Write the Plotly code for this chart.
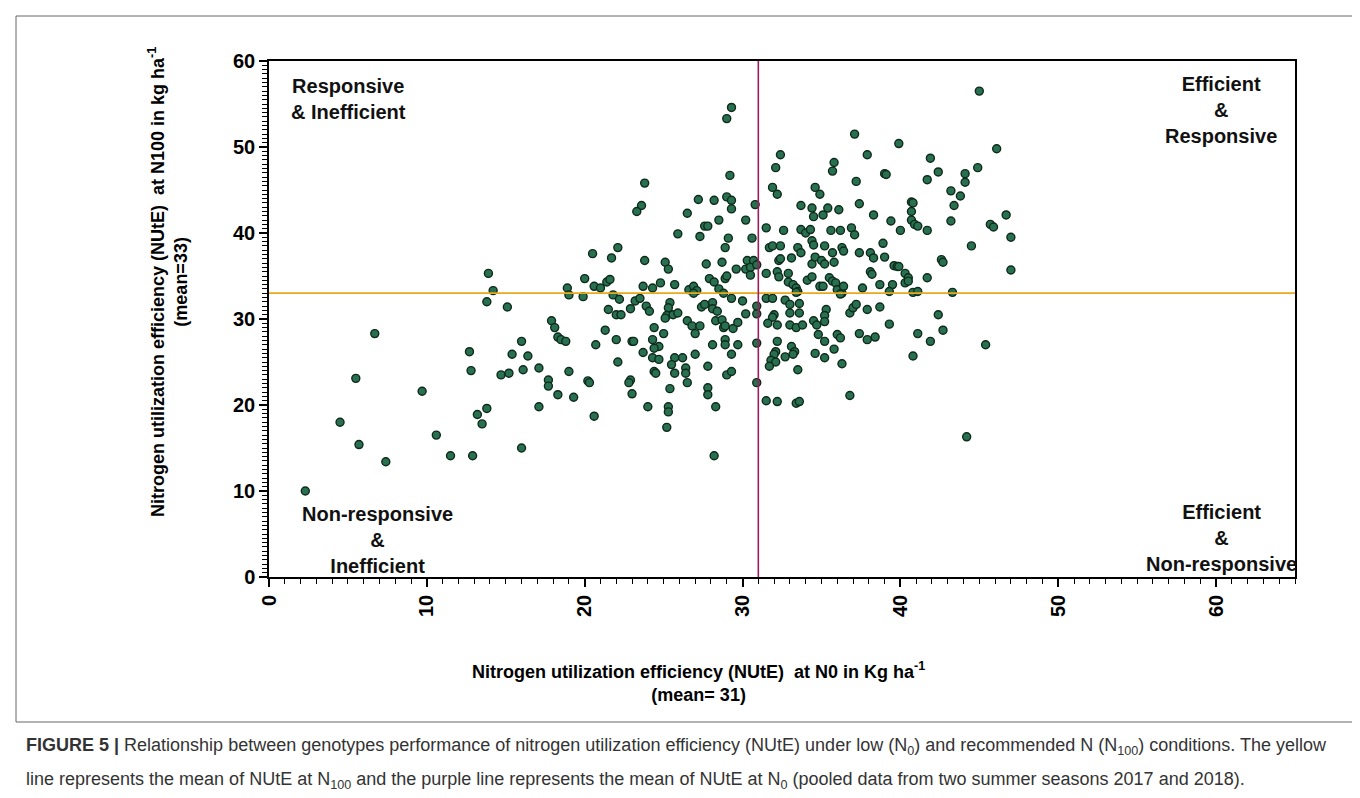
import plotly.graph_objects as go

# NUtE at N0 (x) and at N100 (y), kg/ha
nute_n0 = [
    29.3, 29.0, 29.2, 23.8, 23.6, 23.3, 27.2, 28.2, 29.0, 29.3, 29.3, 30.8, 26.5, 28.5, 30.2, 27.6, 27.8, 25.9, 27.3, 29.1, 30.6,
    45.0, 37.1, 39.9, 46.1, 32.4, 37.9, 41.9, 32.1, 35.8, 35.7, 44.9, 39.0, 39.1, 42.4, 44.1, 44.1, 41.7, 37.2, 31.9, 32.2, 34.6,
    34.9, 43.2, 43.8, 33.7, 34.4, 34.5, 35.1, 35.4, 36.1, 37.4, 38.3, 40.7, 40.8, 40.7, 40.7, 40.9, 41.1, 43.4, 43.2, 39.4, 41.7,
    40.0, 46.7, 45.7, 45.9, 47.0, 31.5, 32.6, 33.7, 34.0, 34.3, 35.6, 36.2, 36.9, 37.1,
    13.9, 14.2, 13.8, 15.1, 6.7, 12.7, 15.4, 12.8, 14.7, 15.2, 5.5, 9.7, 13.8,
    4.5, 5.7, 7.4, 2.3, 10.6, 11.5, 12.9, 13.2, 13.5,
    16.0, 20.6, 25.2, 28.2, 44.2,
    22.1, 20.5, 21.7, 23.8, 25.1, 25.3, 27.7, 28.7, 28.9, 29.6, 30.3, 30.7, 30.2, 30.5, 30.5, 30.9,
    20.0, 18.9, 19.0, 20.6, 21.0, 21.4, 21.6, 19.9, 21.8, 22.2, 23.7, 24.3, 24.8, 25.7, 26.6, 26.9, 27.1, 26.9, 27.9, 28.2, 28.9,
    29.0, 28.5, 28.8, 29.3, 30.0, 30.2, 30.9, 30.9,
    23.2, 23.5, 22.9, 21.5, 22.0, 22.3, 23.9, 24.1, 25.4, 25.3, 25.2, 25.1, 25.6, 25.9, 27.4, 27.6, 28.1, 28.1, 28.4,
    26.5, 26.8, 27.3, 27.0, 28.3, 28.7, 28.8, 28.9, 29.4, 29.7, 28.9, 28.9, 28.1, 29.7, 30.9,
    17.9, 18.1, 18.3, 18.5, 18.8, 21.3, 22.0, 20.7, 23.0, 23.1, 24.4, 25.0, 24.3, 24.7, 24.4,
    16.0, 16.4, 16.1, 17.1, 19.0, 17.7, 17.7, 18.3, 19.3, 20.2, 20.3, 17.1,
    22.1, 23.7, 24.3, 24.7, 25.7, 25.5, 26.2, 24.4, 24.5, 25.7, 26.4, 26.4, 27.0, 27.8, 29.3, 29.0, 29.3, 30.9,
    22.9, 22.8, 23.0, 25.4, 26.5, 27.8, 27.8, 24.0, 25.3, 25.3, 28.3,
    31.7, 31.9, 32.4, 33.5, 33.7, 34.4, 34.5, 35.2, 35.7, 36.3, 36.4, 38.9, 37.4, 38.1, 38.3, 39.0, 44.5,
    32.3, 32.4, 33.1, 34.4, 34.6, 35.0, 35.2, 35.8,
    31.5, 32.2, 32.3, 32.9, 32.9, 33.2, 33.4, 33.5, 34.1, 34.4, 34.9, 35.1, 35.5, 35.7, 35.9, 36.0, 36.3, 36.4, 38.1, 38.2,
    37.6, 38.7, 39.5, 39.3, 39.6, 39.8, 39.9, 40.3, 40.5, 40.3, 40.5, 41.7, 42.6, 42.7, 47.0,
    33.4, 36.2, 40.8, 41.1, 43.3,
    31.5, 31.9, 32.7, 33.0, 33.6, 32.0, 31.9, 33.0, 33.6, 31.6, 32.2, 33.0, 33.4, 33.8, 34.5, 34.7, 35.3, 35.2, 35.2, 36.8,
    37.0, 37.2, 37.9, 38.7, 39.3, 42.4, 42.7, 41.1, 41.9, 45.4,
    34.8, 35.2, 36.0, 36.2, 37.4, 37.9, 38.4, 32.2, 33.1, 33.3, 33.2, 32.1, 32.0, 32.7, 34.6, 35.2, 35.8, 36.3, 31.8, 32.1,
    31.7, 33.5, 40.8, 36.8, 31.5, 32.2, 33.4, 33.6,
]
nute_n100 = [
    54.6, 53.3, 46.7, 45.8, 43.2, 42.5, 43.9, 43.8, 44.2, 43.8, 42.8, 43.3, 42.3, 41.5, 41.5, 40.8, 40.8, 39.9, 39.6, 39.4, 39.4,
    56.5, 51.5, 50.4, 49.8, 49.1, 49.1, 48.7, 47.6, 48.2, 47.2, 47.6, 46.9, 46.8, 47.1, 46.9, 45.9, 46.2, 46.0, 45.3, 44.5, 45.3,
    44.5, 44.9, 44.3, 43.2, 42.9, 41.9, 42.1, 42.9, 42.7, 43.4, 42.1, 43.6, 43.5, 42.5, 41.5, 41.0, 40.8, 43.2, 41.4, 41.4, 40.3,
    40.3, 42.1, 41.0, 40.7, 39.5, 40.6, 40.3, 40.4, 40.0, 40.4, 40.3, 40.3, 40.6, 39.8,
    35.3, 33.3, 32.0, 31.4, 28.3, 26.2, 25.9, 24.0, 23.5, 23.7, 23.1, 21.6, 19.6,
    18.0, 15.4, 13.4, 10.0, 16.5, 14.1, 14.1, 18.9, 17.8,
    15.0, 18.7, 17.4, 14.1, 16.3,
    38.3, 37.6, 37.1, 36.8, 36.6, 35.8, 36.4, 36.6, 38.3, 35.8, 36.8, 36.8, 35.8, 36.0, 35.1, 36.3,
    34.7, 33.6, 32.8, 33.8, 33.6, 34.3, 34.6, 32.6, 32.8, 32.3, 33.8, 33.6, 34.2, 34.0, 33.4, 33.8, 33.3, 33.0, 34.7, 34.3, 34.7,
    35.0, 33.5, 33.0, 32.4, 32.1, 30.6, 31.5, 30.6,
    32.1, 32.4, 31.2, 31.1, 30.5, 30.5, 31.5, 30.9, 31.9, 31.3, 30.4, 30.1, 30.5, 30.7, 31.4, 31.7, 31.9, 31.2, 30.9,
    29.8, 29.2, 29.2, 28.3, 29.8, 29.9, 29.0, 29.2, 28.9, 29.6, 27.6, 27.0, 27.0, 27.0, 27.2,
    29.8, 29.0, 27.9, 27.6, 27.4, 28.7, 27.6, 27.0, 27.4, 27.4, 29.0, 28.3, 27.6, 26.8, 26.6,
    27.4, 25.7, 24.1, 24.3, 23.9, 22.9, 22.2, 21.2, 20.9, 22.8, 22.6, 19.8,
    25.0, 26.1, 25.5, 25.3, 25.5, 24.7, 25.5, 23.9, 23.7, 23.7, 24.3, 23.7, 25.9, 24.5, 25.9, 23.5, 23.9, 22.6,
    22.9, 22.6, 21.3, 21.9, 22.6, 22.0, 21.2, 19.8, 19.8, 19.2, 19.8,
    38.3, 38.5, 38.5, 38.3, 37.7, 39.1, 38.6, 38.5, 37.7, 38.3, 37.9, 38.8, 37.7, 37.7, 37.1, 37.2, 38.5,
    36.8, 37.0, 37.1, 36.4, 37.2, 36.8, 36.4, 36.6,
    35.3, 35.5, 34.9, 35.3, 34.3, 34.0, 33.6, 33.2, 34.5, 34.9, 33.8, 33.8, 34.8, 34.4, 34.2, 33.4, 33.0, 33.8, 35.5, 35.2,
    33.6, 34.0, 34.0, 33.2, 36.2, 36.1, 36.1, 35.3, 34.8, 34.2, 34.4, 34.8, 36.9, 36.6, 35.7,
    33.1, 32.9, 33.1, 33.2, 33.1,
    32.4, 32.4, 32.2, 31.7, 31.8, 30.5, 30.2, 30.7, 30.7, 29.5, 29.3, 29.3, 29.0, 29.3, 29.8, 29.3, 31.1, 30.4, 29.7, 30.7,
    31.3, 31.7, 31.1, 31.4, 29.4, 30.5, 28.7, 28.3, 27.4, 27.0,
    28.2, 27.4, 28.2, 27.8, 28.3, 27.6, 27.9, 27.4, 26.8, 26.2, 25.9, 26.2, 25.9, 25.6, 26.0, 25.5, 26.5, 24.8, 25.2, 25.0,
    24.5, 24.1, 25.7, 21.1, 20.5, 20.4, 20.2, 20.4,
]

x_ticks = [0, 10, 20, 30, 40, 50, 60]
y_ticks = [0, 10, 20, 30, 40, 50, 60]
x_max = 65
y_max = 60
mean_n0 = 31
mean_n100 = 33

W, H = 1360, 798
L, R, T, B = 261, 1287, 53, 569  # plot area in pixels


def px(x):
    return (x - L) / (R - L)


def py(y):
    return (B - y) / (B - T)


fig = go.Figure()
fig.add_trace(go.Scatter(
    x=nute_n0, y=nute_n100, mode="markers",
    marker=dict(size=8, color="#28704F", line=dict(color="#0E2A1B", width=1.4)),
    hoverinfo="x+y",
))

bold = dict(family="Liberation Sans, Arial, sans-serif", size=20, color="black", weight="bold")

fig.update_layout(
    width=W, height=H,
    margin=dict(l=L, r=W - R, t=T, b=H - B),
    plot_bgcolor="white", paper_bgcolor="white",
    showlegend=False,
    xaxis=dict(
        range=[0, x_max], tickvals=x_ticks, ticktext=[str(v) for v in x_ticks],
        showgrid=False, zeroline=False, showline=True, linecolor="black", linewidth=1.5,
        mirror=True, ticks="outside", ticklen=8, tickwidth=1.5, tickcolor="black",
        tickangle=-90, tickfont=bold,
        minor=dict(dtick=1, ticks="outside", ticklen=5, tickwidth=1, tickcolor="black"),
    ),
    yaxis=dict(
        range=[0, y_max], tickvals=y_ticks, ticktext=[str(v) for v in y_ticks],
        showgrid=False, zeroline=False, showline=True, linecolor="black", linewidth=1.5,
        mirror=True, ticks="outside", ticklen=8, tickwidth=1.5, tickcolor="black",
        tickfont=bold,
        minor=dict(dtick=0.5, ticks="outside", ticklen=5, tickwidth=1, tickcolor="black"),
    ),
)

# mean lines
fig.add_shape(type="line", x0=0, x1=x_max, y0=mean_n100, y1=mean_n100, xref="x", yref="y",
              line=dict(color="#E8A91C", width=1.8))
fig.add_shape(type="line", x0=mean_n0, x1=mean_n0, y0=0, y1=y_max, xref="x", yref="y",
              line=dict(color="#A01C5C", width=1.6))

# outer frame of the figure
fig.add_shape(type="rect", xref="paper", yref="paper",
              x0=px(8), x1=px(1352), y0=py(714), y1=py(8),
              line=dict(color="#666666", width=1), layer="below")

quad_font = dict(family="Liberation Sans, Arial, sans-serif", size=20, color="#111111", weight="bold")
quads = [
    ("Responsive<br>& Inefficient", 340, 91),
    ("Efficient<br>&<br>Responsive", 1213, 102),
    ("Non-responsive<br>&<br>Inefficient", 369, 532),
    ("Efficient<br>&<br>Non-responsive", 1213, 530),
]
for text, cx, cy in quads:
    fig.add_annotation(text=text, x=px(cx), y=py(cy), xref="paper", yref="paper",
                       showarrow=False, xanchor="center", yanchor="middle", align="center",
                       font=quad_font)

title_font = dict(family="Liberation Sans, Arial, sans-serif", size=18, color="black", weight="bold")
fig.add_annotation(
    text="Nitrogen utilization efficiency (NUtE)  at N0 in Kg ha<sup>-1</sup><br>(mean= 31)",
    x=px(690), y=py(674), xref="paper", yref="paper", showarrow=False,
    xanchor="center", yanchor="middle", align="center", font=title_font)
fig.add_annotation(
    text="Nitrogen utilization efficiency (NUtE)  at N100 in kg ha<sup>-1</sup><br>(mean=33)",
    x=px(160), y=py(274), xref="paper", yref="paper", showarrow=False, textangle=-90,
    xanchor="center", yanchor="middle", align="center", font=title_font)

cap_font = dict(family="Liberation Sans, Arial, sans-serif", size=18, color="#333333")
fig.add_annotation(
    text=("<b>FIGURE 5 |</b> Relationship between genotypes performance of nitrogen utilization efficiency (NUtE) "
          "under low (N<sub>0</sub>) and recommended N (N<sub>100</sub>) conditions. The yellow"),
    x=px(16), y=py(738), xref="paper", yref="paper", showarrow=False,
    xanchor="left", yanchor="middle", align="left", font=cap_font)
fig.add_annotation(
    text=("line represents the mean of NUtE at N<sub>100</sub> and the purple line represents the mean of NUtE "
          "at N<sub>0</sub> (pooled data from two summer seasons 2017 and 2018)."),
    x=px(16), y=py(772), xref="paper", yref="paper", showarrow=False,
    xanchor="left", yanchor="middle", align="left", font=cap_font)

fig.write_html("out.html")
